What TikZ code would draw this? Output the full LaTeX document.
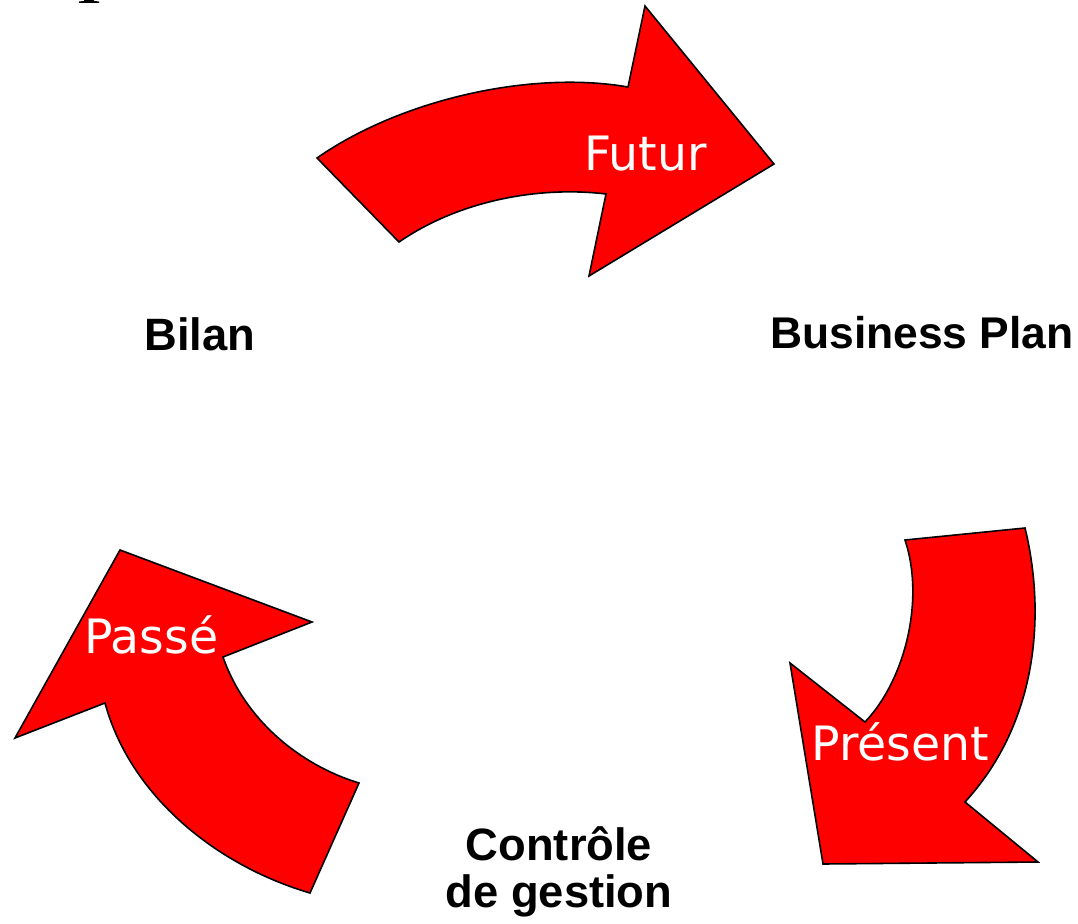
\documentclass[tikz,border=0pt]{standalone}
\usepackage{fontspec}
\setmainfont{Liberation Sans}
\newfontfamily\arrowfont{DejaVu Sans}
\begin{document}
\begin{tikzpicture}[x=0.75pt,y=-0.75pt,
  bigarrow/.style={fill=red,draw=black,line width=1.2pt,line join=miter},
  arrowtext/.style={text=white,font=\arrowfont\fontsize{35.5}{40}\selectfont,inner sep=0pt,anchor=base west},
  label/.style={font=\bfseries\fontsize{34}{35.25}\selectfont,inner sep=0pt,anchor=base,align=center}]
\useasboundingbox (0,0) rectangle (1078,924);
% clipped glyph at top-left
\fill (79,3) -- (79,1.5) -- (84,1) -- (84,0) -- (94,0) -- (94,1) -- (99,1.5) -- (99,3) -- cycle;
% Futur arrow
\draw[bigarrow] (317,158) .. controls (400,100) and (530,70) .. (628,87)
  -- (645,6) -- (774,164) -- (589,276) -- (606,194)
  .. controls (540,186) and (460,200) .. (399,242) -- cycle;
% Present arrow
\draw[bigarrow] (905,540) -- (1025,528)
  .. controls (1045,610) and (1040,720) .. (965,802)
  -- (1038,862) -- (823,864) -- (790,663) -- (865,722)
  .. controls (905,680) and (925,600) .. (905,540) -- cycle;
% Passe arrow
\draw[bigarrow] (120,550) -- (312,622) -- (223,657)
  .. controls (245,720) and (300,765) .. (359,783)
  -- (310,893)
  .. controls (215,865) and (130,795) .. (105,703)
  -- (15,738) -- cycle;
\node[arrowtext] (futur) at (584,170) {Futur};
\node[arrowtext] (present) at (811,760) {Présent};
\node[arrowtext] (passe) at (84,653) {Passé};
\node[label] (bilan) at (200,350) {Bilan};
\node[label,anchor=base west,font=\bfseries\fontsize{33.3}{35.25}\selectfont] (bp) at (770,348) {Business Plan};
\node[label] (cg) at (559,907) {Contrôle \\de gestion};
\end{tikzpicture}
\end{document}
